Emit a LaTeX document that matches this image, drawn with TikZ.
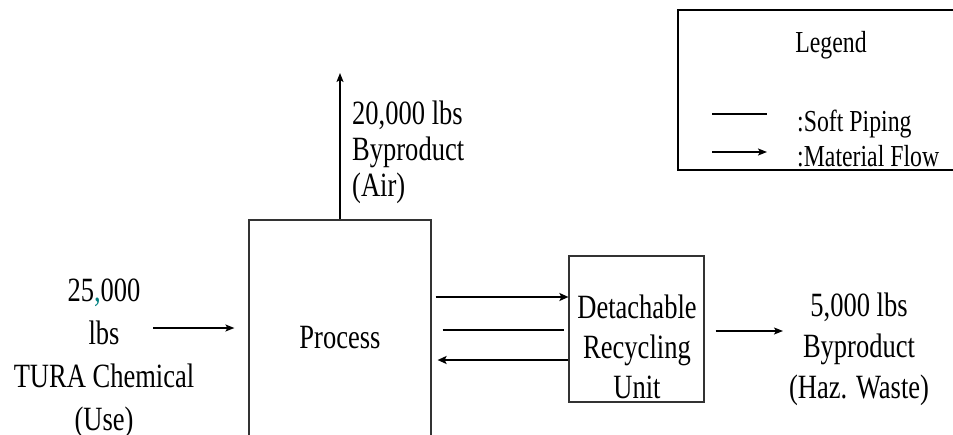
\documentclass[tikz,border=0pt]{standalone}
\usepackage{fontspec}
\setmainfont{Liberation Serif}[FakeStretch=0.78]
\usetikzlibrary{arrows.meta}
\definecolor{commateal}{RGB}{0,128,128}

\begin{document}
\begin{tikzpicture}[x=1pt, y=-1pt,
    every node/.style={inner sep=0pt, font=\fontsize{34}{43}\selectfont},
    legendtext/.style={font=\fontsize{30.5}{36}\selectfont},
    box/.style={draw=black!80, line width=1.2pt},
    legendbox/.style={draw=black, line width=2.6pt},
    pipe/.style={line width=1.2pt},
    flow/.style={line width=1.2pt, -{Stealth[length=9pt, width=7pt, inset=2pt]}},
    bigflow/.style={line width=2.2pt, -{Stealth[length=9pt, width=8pt, inset=2pt]}}]
    \useasboundingbox (0,0) rectangle (953,434);
    \clip (0,0) rectangle (953,434);

    % Legend
    \node (legend) at (838,90) [legendbox, minimum width=320pt, minimum height=160pt] {};
    \node (legtitle) at (831,52) [anchor=base, legendtext] {Legend};
    \coordinate (pipeA) at (712,114);
    \coordinate (pipeB) at (767,114);
    \draw[pipe] (pipeA) -- (pipeB);
    \node (legpipe) at (797,131) [anchor=base west, legendtext] {:Soft Piping};
    \coordinate (flowA) at (712,152);
    \coordinate (flowB) at (767,152);
    \draw[flow] (flowA) -- (flowB);
    \node (legflow) at (797,166) [anchor=base west, legendtext] {:Material Flow};

    % Process
    \node (proc) at (340,340) [box, minimum width=182pt, minimum height=240pt] {};
    \node (proctext) at (340,348.5) [anchor=base] {Process};

    % Input
    \node (use) at (104,358) [align=center] {25{\color{commateal},}000\\lbs\\TURA Chemical\\(Use)};
    \coordinate (usein) at (153,328);
    \draw[flow, shorten >=14pt] (usein) -- (proc.west |- usein);

    % Air
    \coordinate (airtop) at (340,73);
    \draw[flow] (proc.north) -- (airtop);
    \node (air) at (352,152) [anchor=west, align=left, font=\fontsize{34}{36}\selectfont] {20,000 lbs\\Byproduct\\(Air)};

    % Recycling unit
    \node (rec) at (636.5,329) [box, minimum width=135pt, minimum height=146pt] {};
    \node (rectext) at (637,347) [align=center, font=\fontsize{34}{40}\selectfont] {Detachable\\Recycling\\Unit};
    \draw[bigflow, shorten <=4pt] (proc.east |- 0,297) -- (rec.west |- 0,297);
    \draw[pipe, shorten <=11pt, shorten >=4pt] (proc.east |- 0,330) -- (rec.west |- 0,330);
    \draw[bigflow, shorten >=6pt] (rec.west |- 0,360) -- (proc.east |- 0,360);

    % Waste
    \coordinate (hazout) at (783,331);
    \draw[flow, shorten <=11pt] (rec.east |- hazout) -- (hazout);
    \node (haz) at (859,349) [align=center, font=\fontsize{34}{41}\selectfont] {5,000 lbs\\Byproduct\\(Haz. Waste)};
\end{tikzpicture}
\end{document}
